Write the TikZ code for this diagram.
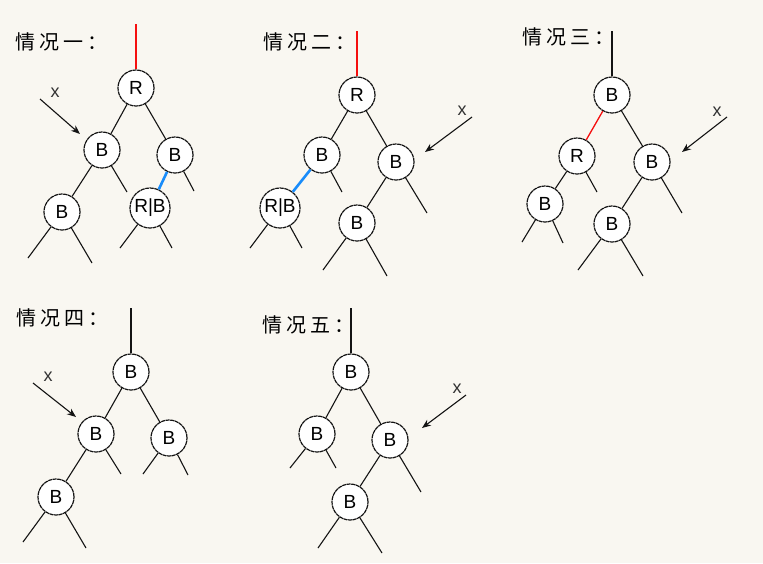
\documentclass[tikz,border=0pt]{standalone}
\usepackage{fontspec}
\usetikzlibrary{arrows.meta}
\newfontfamily\cjkfont[LetterSpace=20]{Noto Sans CJK SC}
\newfontfamily\latfont{Liberation Sans}
\definecolor{bg}{RGB}{249,247,241}
\definecolor{edgec}{RGB}{20,20,20}
\definecolor{redc}{RGB}{245,15,15}
\definecolor{bluec}{RGB}{25,140,250}
\tikzset{
  nd/.style={circle, draw=edgec, fill=white, line width=1.2pt, dash pattern=on 4pt off 0.6pt,
    minimum size=36pt, inner sep=0pt, font=\latfont\fontsize{19}{19}\selectfont},
  ndw/.style={nd, minimum size=40pt},
  ln/.style={draw=edgec, line width=1.1pt},
  redln/.style={draw=redc, line width=1.3pt},
  blueln/.style={draw=bluec, line width=2.6pt},
  arr/.style={draw=edgec, line width=1.1pt, -{Stealth[length=9pt,width=7pt]}},
  xlab/.style={font=\latfont\fontsize{18}{18}\selectfont, text=black!80, inner sep=0pt},
  title/.style={font=\cjkfont\fontsize{20}{20}\selectfont, anchor=west, inner sep=0pt, text=black}
}
\begin{document}
\begin{tikzpicture}[x=1pt,y=-1pt]
\useasboundingbox (0,0) rectangle (763,563);
\fill[bg] (0,0) rectangle (763,563);

% ---------------- Panel 1 ----------------
\node[title] (t1) at (15,42) {情况一：};
\coordinate (p1top) at (136,24);
\node[nd] (R1) at (136,88) {R};
\node[nd] (B1a) at (102,150) {B};
\node[nd] (B1b) at (175,155) {B};
\node[nd] (B1c) at (62,212) {B};
\node[ndw] (RB1) at (150,208) {R|B};
\coordinate (s1a) at (127,192);
\coordinate (s1b) at (194,191);
\coordinate (s1c) at (28,258);
\coordinate (s1d) at (92,263);
\coordinate (s1e) at (120,248);
\coordinate (s1f) at (172,248);
\node[xlab] (x1) at (55,93) {x};
\coordinate (a1s) at (40,99);
\coordinate (a1e) at (80,134);

% ---------------- Panel 2 ----------------
\node[title] (t2) at (263,42) {情况二：};
\coordinate (p2top) at (357,31);
\node[nd] (R2) at (357,95) {R};
\node[nd] (B2a) at (322,155) {B};
\node[nd] (B2b) at (396,162) {B};
\node[ndw] (RB2) at (280,208) {R|B};
\node[nd] (B2c) at (357,223) {B};
\coordinate (s2a) at (342,192);
\coordinate (s2b) at (427,213);
\coordinate (s2c) at (250,248);
\coordinate (s2d) at (302,248);
\coordinate (s2e) at (323,270);
\coordinate (s2f) at (387,276);
\node[xlab] (x2) at (462,111) {x};
\coordinate (a2s) at (472,117);
\coordinate (a2e) at (425,152);

% ---------------- Panel 3 ----------------
\node[title] (t3) at (522,37) {情况三：};
\coordinate (p3top) at (612,31);
\node[nd] (B3) at (612,95) {B};
\node[nd] (R3) at (577,156) {R};
\node[nd] (B3b) at (652,162) {B};
\node[nd] (B3c) at (545,204) {B};
\node[nd] (B3d) at (612,224) {B};
\coordinate (s3a) at (597,192);
\coordinate (s3b) at (522,242);
\coordinate (s3c) at (563,243);
\coordinate (s3d) at (682,213);
\coordinate (s3e) at (578,270);
\coordinate (s3f) at (643,276);
\node[xlab] (x3) at (717,112) {x};
\coordinate (a3s) at (727,117);
\coordinate (a3e) at (682,152);

% ---------------- Panel 4 ----------------
\node[title] (t4) at (16,318) {情况四：};
\coordinate (p4top) at (131,308);
\node[nd] (B4) at (131,372) {B};
\node[nd] (B4a) at (96,434) {B};
\node[nd] (B4b) at (169,438) {B};
\node[nd] (B4c) at (56,497) {B};
\coordinate (s4a) at (121,474);
\coordinate (s4b) at (143,474);
\coordinate (s4c) at (188,475);
\coordinate (s4d) at (23,542);
\coordinate (s4e) at (86,548);
\node[xlab] (x4) at (48,377) {x};
\coordinate (a4s) at (33,383);
\coordinate (a4e) at (76,417);

% ---------------- Panel 5 ----------------
\node[title] (t5) at (262,325) {情况五：};
\coordinate (p5top) at (351,308);
\node[nd] (B5) at (351,372) {B};
\node[nd] (B5a) at (317,434) {B};
\node[nd] (B5b) at (390,440) {B};
\node[nd] (B5c) at (350,502) {B};
\coordinate (s5a) at (290,468);
\coordinate (s5b) at (336,468);
\coordinate (s5c) at (421,492);
\coordinate (s5d) at (318,548);
\coordinate (s5e) at (382,553);
\node[xlab] (x5) at (457,389) {x};
\coordinate (a5s) at (466,395);
\coordinate (a5e) at (422,428);

% ---------------- connectors ----------------
% panel 1
\draw[redln] (p1top) -- (R1);
\draw[ln] (R1) -- (B1a);
\draw[ln] (R1) -- (B1b);
\draw[ln] (B1a) -- (B1c);
\draw[blueln] (B1b) -- (RB1);
\draw[ln] (B1a) -- (s1a);
\draw[ln] (B1b) -- (s1b);
\draw[ln] (B1c) -- (s1c);
\draw[ln] (B1c) -- (s1d);
\draw[ln] (RB1) -- (s1e);
\draw[ln] (RB1) -- (s1f);
\draw[arr] (a1s) -- (a1e);
% panel 2
\draw[redln] (p2top) -- (R2);
\draw[ln] (R2) -- (B2a);
\draw[ln] (R2) -- (B2b);
\draw[blueln] (B2a) -- (RB2);
\draw[ln] (B2b) -- (B2c);
\draw[ln] (B2a) -- (s2a);
\draw[ln] (B2b) -- (s2b);
\draw[ln] (RB2) -- (s2c);
\draw[ln] (RB2) -- (s2d);
\draw[ln] (B2c) -- (s2e);
\draw[ln] (B2c) -- (s2f);
\draw[arr] (a2s) -- (a2e);
% panel 3
\draw[ln] (p3top) -- (B3);
\draw[redln] (B3) -- (R3);
\draw[ln] (B3) -- (B3b);
\draw[ln] (R3) -- (B3c);
\draw[ln] (B3b) -- (B3d);
\draw[ln] (R3) -- (s3a);
\draw[ln] (B3c) -- (s3b);
\draw[ln] (B3c) -- (s3c);
\draw[ln] (B3b) -- (s3d);
\draw[ln] (B3d) -- (s3e);
\draw[ln] (B3d) -- (s3f);
\draw[arr] (a3s) -- (a3e);
% panel 4
\draw[ln] (p4top) -- (B4);
\draw[ln] (B4) -- (B4a);
\draw[ln] (B4) -- (B4b);
\draw[ln] (B4a) -- (B4c);
\draw[ln] (B4a) -- (s4a);
\draw[ln] (B4b) -- (s4b);
\draw[ln] (B4b) -- (s4c);
\draw[ln] (B4c) -- (s4d);
\draw[ln] (B4c) -- (s4e);
\draw[arr] (a4s) -- (a4e);
% panel 5
\draw[ln] (p5top) -- (B5);
\draw[ln] (B5) -- (B5a);
\draw[ln] (B5) -- (B5b);
\draw[ln] (B5b) -- (B5c);
\draw[ln] (B5a) -- (s5a);
\draw[ln] (B5a) -- (s5b);
\draw[ln] (B5b) -- (s5c);
\draw[ln] (B5c) -- (s5d);
\draw[ln] (B5c) -- (s5e);
\draw[arr] (a5s) -- (a5e);
\end{tikzpicture}
\end{document}
